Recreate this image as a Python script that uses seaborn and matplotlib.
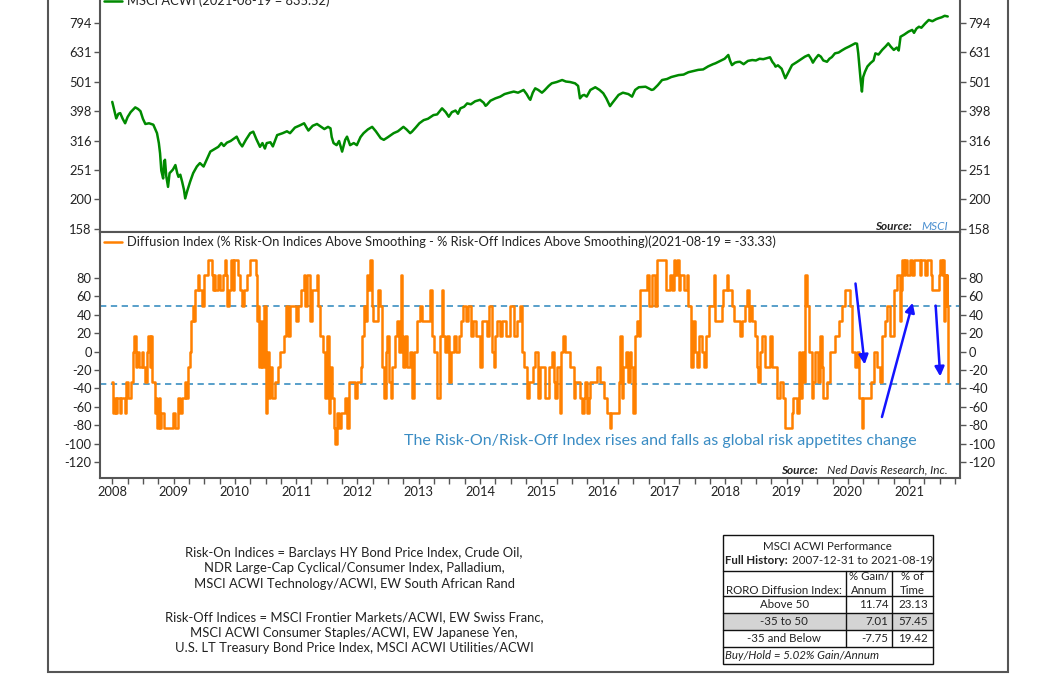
import matplotlib
matplotlib.use("Agg")
import matplotlib.pyplot as plt
import seaborn as sns
from matplotlib.patches import Rectangle
from matplotlib.ticker import NullLocator, FixedLocator

# ---- data (x in decimal years) ----
acwi_t = [2008.00, 2008.04, 2008.065, 2008.10, 2008.13, 2008.17, 2008.21, 2008.25, 2008.30, 2008.375,
          2008.42, 2008.46, 2008.50, 2008.54, 2008.60, 2008.67, 2008.73, 2008.76, 2008.78, 2008.80,
          2008.83, 2008.845, 2008.86, 2008.88, 2008.91, 2008.935, 2008.96, 2008.99, 2009.03, 2009.06,
          2009.08, 2009.11, 2009.14, 2009.17, 2009.19, 2009.22, 2009.27, 2009.32, 2009.38, 2009.43,
          2009.49, 2009.55, 2009.60, 2009.66, 2009.73, 2009.78, 2009.82, 2009.87, 2009.93, 2010.03,
          2010.08, 2010.12, 2010.18, 2010.25, 2010.30, 2010.35, 2010.41, 2010.45, 2010.49, 2010.52,
          2010.58, 2010.62, 2010.69, 2010.78, 2010.85, 2010.90, 2010.98, 2011.06, 2011.13, 2011.17,
          2011.20, 2011.27, 2011.34, 2011.40, 2011.46, 2011.52, 2011.56, 2011.58, 2011.61, 2011.66,
          2011.70, 2011.75, 2011.80, 2011.83, 2011.88, 2011.94, 2011.99, 2012.05, 2012.10, 2012.17,
          2012.24, 2012.30, 2012.38, 2012.43, 2012.50, 2012.59, 2012.66, 2012.75, 2012.80, 2012.86,
          2012.89, 2012.95, 2013.01, 2013.08, 2013.15, 2013.24, 2013.30, 2013.38, 2013.44, 2013.49,
          2013.54, 2013.60, 2013.64, 2013.68, 2013.74, 2013.79, 2013.85, 2013.92, 2014.00, 2014.06,
          2014.09, 2014.11, 2014.17, 2014.25, 2014.33, 2014.40, 2014.48, 2014.55, 2014.62, 2014.71,
          2014.76, 2014.80, 2014.82, 2014.86, 2014.90, 2014.95, 2015.01, 2015.05, 2015.12, 2015.17,
          2015.25, 2015.34, 2015.40, 2015.47, 2015.55, 2015.60, 2015.63, 2015.67, 2015.70, 2015.74,
          2015.80, 2015.88, 2015.95, 2016.01, 2016.06, 2016.12, 2016.16, 2016.26, 2016.33, 2016.42,
          2016.48, 2016.53, 2016.59, 2016.70, 2016.80, 2016.83, 2016.90, 2016.97, 2017.05, 2017.12,
          2017.24, 2017.32, 2017.40, 2017.48, 2017.56, 2017.64, 2017.72, 2017.80, 2017.84, 2017.92,
          2017.99, 2018.05, 2018.08, 2018.11, 2018.16, 2018.20, 2018.24, 2018.30, 2018.37, 2018.44,
          2018.50, 2018.56, 2018.62, 2018.73, 2018.77, 2018.80, 2018.82, 2018.86, 2018.92, 2018.98,
          2019.02, 2019.09, 2019.17, 2019.25, 2019.30, 2019.36, 2019.40, 2019.43, 2019.47, 2019.52,
          2019.56, 2019.60, 2019.66, 2019.70, 2019.74, 2019.79, 2019.85, 2019.90, 2019.96, 2020.02,
          2020.08, 2020.12, 2020.15, 2020.17, 2020.19, 2020.21, 2020.23, 2020.25, 2020.28, 2020.32,
          2020.37, 2020.42, 2020.45, 2020.50, 2020.56, 2020.62, 2020.66, 2020.70, 2020.75, 2020.80,
          2020.83, 2020.86, 2020.92, 2020.99, 2021.05, 2021.08, 2021.12, 2021.16, 2021.20, 2021.26,
          2021.32, 2021.38, 2021.44, 2021.48, 2021.53, 2021.58, 2021.63]
acwi_v = [428, 395, 376, 390, 392, 375, 362, 380, 395, 410,
          405, 398, 375, 360, 362, 358, 335, 310, 286, 250,
          235, 268, 272, 240, 220, 245, 248, 252, 261, 245,
          238, 242, 229, 215, 201, 212, 229, 245, 258, 265,
          258, 275, 290, 295, 301, 310, 303, 311, 315, 326,
          310, 302, 318, 335, 339, 320, 301, 310, 297, 310,
          312, 302, 330, 335, 340, 335, 350, 356, 362, 350,
          342, 355, 360, 353, 346, 352, 348, 325, 310, 305,
          315, 290, 318, 326, 305, 310, 305, 325, 335, 345,
          352, 340, 322, 318, 325, 335, 340, 352, 345, 335,
          339, 350, 362, 371, 375, 386, 388, 407, 395, 381,
          395, 400, 390, 407, 412, 423, 420, 430, 435, 425,
          415, 418, 432, 440, 446, 455, 460, 464, 460, 470,
          455, 440, 435, 460, 476, 470, 460, 468, 485, 495,
          500, 508, 502, 500, 495, 485, 440, 450, 452, 446,
          470, 480, 470, 458, 440, 414, 425, 452, 460, 455,
          446, 470, 480, 482, 470, 472, 488, 508, 512, 520,
          528, 530, 540, 545, 550, 552, 565, 575, 579, 590,
          600, 618, 590, 571, 582, 585, 586, 575, 590, 594,
          592, 600, 598, 607, 585, 575, 564, 570, 555, 515,
          535, 571, 585, 600, 610, 618, 600, 582, 600, 618,
          610, 592, 586, 600, 608, 626, 630, 640, 651, 660,
          670, 677, 675, 626, 560, 505, 464, 520, 542, 565,
          580, 592, 626, 620, 643, 662, 677, 660, 643, 655,
          640, 713, 725, 742, 752, 735, 760, 771, 765, 790,
          813, 805, 818, 824, 830, 840, 835.52]

roro_t = [2008.00, 2008.01, 2008.04, 2008.06, 2008.08, 2008.12, 2008.14, 2008.20, 2008.22, 2008.25,
          2008.31, 2008.34, 2008.36, 2008.38, 2008.40, 2008.44, 2008.48, 2008.50, 2008.54, 2008.57,
          2008.59, 2008.61, 2008.63, 2008.65, 2008.69, 2008.71, 2008.73, 2008.76, 2008.78, 2008.80,
          2008.84, 2008.99, 2009.02, 2009.08, 2009.10, 2009.13, 2009.19, 2009.21, 2009.24, 2009.27,
          2009.29, 2009.31, 2009.33, 2009.35, 2009.40, 2009.42, 2009.47, 2009.50, 2009.56, 2009.62,
          2009.64, 2009.66, 2009.68, 2009.72, 2009.76, 2009.80, 2009.84, 2009.86, 2009.88, 2009.90,
          2009.93, 2009.97, 2009.99, 2010.05, 2010.09, 2010.12, 2010.15, 2010.20, 2010.25, 2010.34,
          2010.36, 2010.38, 2010.40, 2010.43, 2010.45, 2010.47, 2010.50, 2010.52, 2010.55, 2010.57,
          2010.60, 2010.66, 2010.70, 2010.74, 2010.80, 2010.84, 2010.86, 2010.90, 2011.00, 2011.03,
          2011.08, 2011.12, 2011.15, 2011.18, 2011.23, 2011.26, 2011.34, 2011.36, 2011.39, 2011.44,
          2011.47, 2011.50, 2011.53, 2011.56, 2011.59, 2011.61, 2011.64, 2011.66, 2011.70, 2011.73,
          2011.80, 2011.83, 2011.86, 2011.96, 2011.99, 2012.05, 2012.07, 2012.10, 2012.12, 2012.15,
          2012.18, 2012.21, 2012.23, 2012.24, 2012.26, 2012.34, 2012.37, 2012.40, 2012.43, 2012.46,
          2012.48, 2012.51, 2012.54, 2012.57, 2012.62, 2012.64, 2012.67, 2012.71, 2012.73, 2012.75,
          2012.78, 2012.81, 2012.85, 2012.89, 2012.92, 2012.97, 2013.02, 2013.06, 2013.18, 2013.22,
          2013.25, 2013.30, 2013.34, 2013.38, 2013.40, 2013.43, 2013.46, 2013.49, 2013.52, 2013.57,
          2013.61, 2013.65, 2013.69, 2013.73, 2013.77, 2013.81, 2013.85, 2013.89, 2013.94, 2014.00,
          2014.04, 2014.11, 2014.14, 2014.19, 2014.22, 2014.25, 2014.28, 2014.33, 2014.36, 2014.42,
          2014.49, 2014.55, 2014.60, 2014.66, 2014.68, 2014.72, 2014.76, 2014.80, 2014.87, 2014.90,
          2014.95, 2014.98, 2015.06, 2015.12, 2015.17, 2015.20, 2015.23, 2015.25, 2015.30, 2015.32,
          2015.35, 2015.39, 2015.47, 2015.53, 2015.55, 2015.63, 2015.66, 2015.69, 2015.72, 2015.74,
          2015.77, 2015.80, 2015.91, 2015.95, 2016.02, 2016.07, 2016.12, 2016.14, 2016.26, 2016.29,
          2016.31, 2016.34, 2016.38, 2016.41, 2016.44, 2016.47, 2016.49, 2016.52, 2016.56, 2016.59,
          2016.61, 2016.72, 2016.75, 2016.80, 2016.86, 2016.89, 2017.04, 2017.10, 2017.13, 2017.16,
          2017.18, 2017.21, 2017.24, 2017.27, 2017.32, 2017.38, 2017.40, 2017.44, 2017.47, 2017.51,
          2017.54, 2017.57, 2017.62, 2017.65, 2017.68, 2017.73, 2017.81, 2017.83, 2017.95, 2017.97,
          2018.03, 2018.05, 2018.11, 2018.14, 2018.24, 2018.27, 2018.33, 2018.35, 2018.38, 2018.41,
          2018.44, 2018.49, 2018.52, 2018.54, 2018.57, 2018.60, 2018.65, 2018.73, 2018.76, 2018.84,
          2018.90, 2018.95, 2018.98, 2019.09, 2019.11, 2019.17, 2019.20, 2019.22, 2019.25, 2019.28,
          2019.30, 2019.33, 2019.36, 2019.41, 2019.44, 2019.47, 2019.52, 2019.55, 2019.58, 2019.60,
          2019.66, 2019.71, 2019.79, 2019.85, 2019.90, 2019.96, 2020.04, 2020.07, 2020.12, 2020.15,
          2020.19, 2020.23, 2020.25, 2020.37, 2020.42, 2020.47, 2020.52, 2020.55, 2020.60, 2020.64,
          2020.68, 2020.75, 2020.80, 2020.85, 2020.87, 2020.88, 2020.92, 2020.94, 2020.97, 2021.01,
          2021.05, 2021.08, 2021.17, 2021.20, 2021.26, 2021.29, 2021.35, 2021.37, 2021.48, 2021.51,
          2021.54, 2021.56, 2021.57, 2021.58, 2021.60, 2021.61, 2021.62, 2021.63]
roro_v = [-33, -67, -50, -67, -50, -67, -50, -67, -33, -50,
          -33, 0, 17, -17, 0, -17, 0, -17, -33, 0,
          17, -17, 17, -33, -67, -50, -83, -50, -83, -67,
          -83, -67, -83, -50, -67, -50, -33, -50, -17, 0,
          33, 50, 33, 67, 83, 67, 50, 83, 100, 83,
          67, 83, 67, 83, 67, 83, 100, 83, 50, 67,
          100, 67, 100, 83, 67, 50, 67, 83, 100, 83,
          33, 50, -17, 33, -17, 50, -67, 0, -50, -17,
          -50, -33, -17, 0, 17, 50, 17, 50, 33, 50,
          67, 83, 50, 83, 33, 67, 83, 50, 17, 0,
          -50, 17, -67, -17, -50, -83, -100, -67, -83, -67,
          -50, -83, -33, -50, -33, -17, 17, 50, 33, 83,
          67, 100, 83, 50, 33, 67, 50, -17, -50, 0,
          17, -33, -50, -17, 17, 33, 0, 83, 17, -17,
          17, -17, 0, -50, 0, 33, 50, 33, 67, 17,
          0, -50, 17, 67, 17, 0, 17, -33, 0, 17,
          0, 17, 33, 50, 33, 50, 17, 33, 17, -17,
          33, 17, 50, 0, -17, 17, 33, 17, 33, 17,
          50, 17, 33, 50, 0, -17, -50, -33, -17, 0,
          -50, -17, -50, -17, 0, -33, -50, -17, -67, 0,
          17, 0, -17, -50, -33, -50, -67, -50, -33, -67,
          -50, -33, -17, -33, -50, -67, -83, -67, -33, 17,
          -50, -17, 0, -33, 0, -17, -67, 17, 33, 17,
          67, 83, 50, 83, 50, 100, 67, 83, 67, 100,
          83, 100, 67, 83, 67, 83, 50, -17, 33, 0,
          -17, 17, 0, -17, 17, 50, 83, 33, 50, 67,
          83, 67, 50, 33, 17, 33, 50, 67, 33, 50,
          33, 17, -17, -33, 0, 17, -17, 17, -17, -50,
          -33, -50, -83, -67, -50, -67, 0, -50, 0, -33,
          83, 50, 0, -50, -33, 0, -33, 17, -17, -50,
          -33, 0, 17, 33, 50, 67, 50, 0, -17, 0,
          -50, -83, -50, -33, 0, -17, -33, 17, 33, 50,
          17, 67, 83, 33, 67, 100, 83, 100, 83, 100,
          83, 100, 83, 100, 83, 100, 83, 67, 83, 100,
          83, 100, 33, 83, 50, 83, 50, -33]

years = list(range(2008, 2022))
top_ticks = [158.5, 199.5, 251.2, 316.2, 398.1, 501.2, 631.0, 794.3]
top_labels = ["158", "200", "251", "316", "398", "501", "631", "794"]
bottom_ticks = [-120, -100, -80, -60, -40, -20, 0, 20, 40, 60, 80]
bands = [50, -35]

table_rows = ["Above 50", "-35 to 50", "-35 and Below"]
table_gain = ["11.74", "7.01", "-7.75"]
table_time = ["23.13", "57.45", "19.42"]

risk_on = ["Risk-On Indices = Barclays HY Bond Price Index, Crude Oil,",
           "NDR Large-Cap Cyclical/Consumer Index, Palladium,",
           "MSCI ACWI Technology/ACWI, EW South African Rand"]
risk_off = ["Risk-Off Indices = MSCI Frontier Markets/ACWI, EW Swiss Franc,",
            "MSCI ACWI Consumer Staples/ACWI, EW Japanese Yen,",
            "U.S. LT Treasury Bond Price Index, MSCI ACWI Utilities/ACWI"]

# ---- style ----
sns.set_theme(style="white")
plt.rcParams['font.family'] = ['Lato', 'DejaVu Sans']
plt.rcParams['axes.unicode_minus'] = False
TXT = "#222222"
SPINE = "#555555"

W, H = 1056, 675
fig = plt.figure(figsize=(W / 100, H / 100), dpi=100)


def box(l, t, r, b):
    return [l / W, 1 - b / H, (r - l) / W, (b - t) / H]


ax1 = fig.add_axes(box(100, -9, 960, 232))
ax2 = fig.add_axes(box(100, 232, 960, 478), sharex=ax1)

# top panel: MSCI ACWI (log scale)
sns.lineplot(x=acwi_t, y=acwi_v, ax=ax1, color="#008a00", lw=1.8,
             estimator=None, sort=False, label="MSCI ACWI (2021-08-19 = 835.52)")
ax1.set_yscale("log")
ax1.set_ylim(154.5, 1020)
ax1.yaxis.set_major_locator(FixedLocator(top_ticks))
ax1.yaxis.set_minor_locator(NullLocator())
ax1.set_yticklabels(top_labels)
ax1.tick_params(axis="y", which="both", left=True, right=True, labelleft=True, labelright=True,
                length=4, width=1, color=SPINE, labelsize=9.3, labelcolor=TXT, pad=2)
ax1.tick_params(axis="x", which="both", bottom=False, labelbottom=False)
ax1.spines["top"].set_visible(False)

# bottom panel: diffusion index
sns.lineplot(x=roro_t, y=roro_v, ax=ax2, color="#ff8000", lw=1.8, drawstyle="steps-post",
             estimator=None, sort=False,
             label="Diffusion Index (% Risk-On Indices Above Smoothing - % Risk-Off Indices Above Smoothing)(2021-08-19 = -33.33)")
for b in bands:
    ax2.axhline(b, color="#4a97c6", lw=1.3, ls=(0, (3.5, 2.5)), zorder=1)
ax2.set_ylim(-137.4, 130)
ax2.set_yticks(bottom_ticks)
ax2.tick_params(axis="y", which="both", left=True, right=True, labelleft=True, labelright=True,
                length=4, width=1, color=SPINE, labelsize=9.3, labelcolor=TXT, pad=2)
ax2.set_xlim(2007.80, 2021.83)
ax2.xaxis.set_major_locator(FixedLocator(years))
ax2.xaxis.set_minor_locator(FixedLocator([y + q for y in years for q in (0.25, 0.5, 0.75)]))
ax2.set_xticklabels([str(y) for y in years])
ax2.tick_params(axis="x", which="both", bottom=True, length=4, width=1, color=SPINE,
                labelsize=9.3, labelcolor=TXT, pad=2)

for ax in (ax1, ax2):
    for s in ax.spines.values():
        s.set_color(SPINE)
        s.set_linewidth(1.5)
    ax.set_xlabel("")
    ax.set_ylabel("")
    leg = ax.legend(loc="upper left", frameon=False, fontsize=9.3, handlelength=1.4,
                    handletextpad=0.4, borderpad=0.25, borderaxespad=0.05)
    for t in leg.get_texts():
        t.set_color(TXT)

# arrows
arrows = [((2020.12, 77), (2020.28, -17)),
          ((2020.545, -74), (2021.07, 56)),
          ((2021.43, 53), (2021.51, -30))]
for tail, head in arrows:
    ax2.annotate("", xy=head, xytext=tail,
                 arrowprops=dict(arrowstyle="-|>", color="#1414ff", lw=1.8, mutation_scale=14))

# ---- overlay in pixel coordinates ----
ov = fig.add_axes([0, 0, 1, 1], zorder=10)
ov.set_xlim(0, W)
ov.set_ylim(H, 0)
ov.axis("off")
ov.patch.set_alpha(0)

# figure frame
ov.plot([48, 48, 1008, 1008], [-5, 672, 672, -5], color=SPINE, lw=1.5, solid_joinstyle="miter")

ov.text(912, 226, "Source:", ha="right", va="center", fontsize=8.5, fontweight="bold",
        style="italic", color=TXT)
ov.text(921, 226, "MSCI", ha="left", va="center", fontsize=8.5, style="italic", color="#4a8fd0")
ov.text(818, 470, "Source:", ha="right", va="center", fontsize=8.5, fontweight="bold",
        style="italic", color=TXT)
ov.text(827, 470, "Ned Davis Research, Inc.", ha="left", va="center", fontsize=8.5,
        style="italic", color=TXT)
ov.text(660, 441, "The Risk-On/Risk-Off Index rises and falls as global risk appetites change",
        ha="center", va="center", fontsize=11.5, color="#3a8cc4")

# index composition text
for i, line in enumerate(risk_on):
    ov.text(354, 553 + i * 15.4, line, ha="center", va="center", fontsize=9.4, color=TXT)
for i, line in enumerate(risk_off):
    ov.text(354, 617 + i * 15.6, line, ha="center", va="center", fontsize=9.4, color=TXT)

# performance table
L, R, T, B = 722.5, 933, 535, 664
c1, c2 = 845.7, 892.3
row_y = [596, 613, 630.3, 647.3]
ov.add_patch(Rectangle((L, row_y[1]), R - L, row_y[2] - row_y[1], facecolor="#d4d4d4",
                       edgecolor="none"))
ov.add_patch(Rectangle((L, T), R - L, B - T, facecolor="none", edgecolor="#111111", lw=1))
for y in [570.7] + row_y:
    ov.plot([L, R], [y, y], color="#111111", lw=1)
for x in (c1, c2):
    ov.plot([x, x], [570.7, row_y[-1]], color="#111111", lw=1)

fs = 8.3
ov.text((L + R) / 2, 546, "MSCI ACWI Performance", ha="center", va="center", fontsize=fs, color=TXT)
ov.text(725, 561, "Full History:", ha="left", va="center", fontsize=fs, fontweight="bold", color=TXT)
ov.text(792, 561, "2007-12-31 to 2021-08-19", ha="left", va="center", fontsize=fs, color=TXT)
ov.text((L + c1) / 2, 590, "RORO Diffusion Index:", ha="center", va="center", fontsize=fs, color=TXT)
ov.text((c1 + c2) / 2, 576, "% Gain/", ha="center", va="center", fontsize=fs, color=TXT)
ov.text((c1 + c2) / 2, 590, "Annum", ha="center", va="center", fontsize=fs, color=TXT)
ov.text((c2 + R) / 2, 576, "% of", ha="center", va="center", fontsize=fs, color=TXT)
ov.text((c2 + R) / 2, 590, "Time", ha="center", va="center", fontsize=fs, color=TXT)
for i in range(len(table_rows)):
    yc = (row_y[i] + row_y[i + 1]) / 2
    ov.text((L + c1) / 2, yc, table_rows[i], ha="center", va="center", fontsize=fs, color=TXT)
    ov.text(c2 - 4, yc, table_gain[i], ha="right", va="center", fontsize=fs, color=TXT)
    ov.text(R - 5, yc, table_time[i], ha="right", va="center", fontsize=fs, color=TXT)
ov.text(725, (row_y[-1] + B) / 2, "Buy/Hold = 5.02% Gain/Annum", ha="left", va="center",
        fontsize=fs, style="italic", color=TXT)

fig.savefig("out.png", dpi=100)
